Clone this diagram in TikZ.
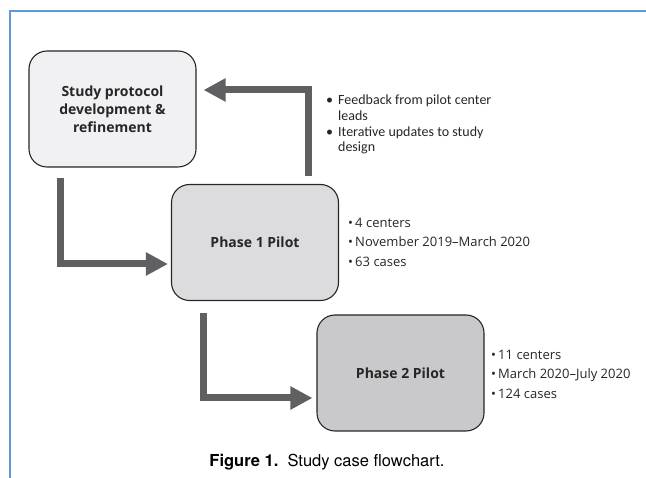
\documentclass[tikz,border=0pt]{standalone}
\usepackage{fontspec}
\setmainfont{Open Sans}
\newfontfamily\notefont{Carlito}
\newfontfamily\capfont{TeX Gyre Heros}
\usetikzlibrary{arrows.meta}
\definecolor{frameblue}{HTML}{5B9BD5}
\definecolor{arrowgray}{HTML}{606062}
\definecolor{fillA}{HTML}{F1F1F3}
\definecolor{fillB}{HTML}{DCDCDE}
\definecolor{fillC}{HTML}{C9C9CB}

\begin{document}
\begin{tikzpicture}[x=1pt,y=-1pt,
  box/.style={draw=black!85,line width=1.1pt,rounded corners=18pt,
    minimum width=167pt,minimum height=116pt,align=center,
    font=\bfseries\fontsize{14}{18}\selectfont,text=black!85},
  flow/.style={draw=arrowgray,line width=7pt,-{Triangle[length=22pt,width=22pt]}},
  list/.style={align=left,anchor=west,inner sep=0pt,text=black!85,
    font=\fontsize{13}{19.5}\selectfont}]
  \useasboundingbox (0,0) rectangle (646,478);
  \draw[frameblue,line width=2pt] (10,478) -- (10,11) -- (646,11);
  \node[box,fill=fillA] (sp) at (112.5,109) {Study protocol\\development \&\\refinement};
  \node[box,fill=fillB] (p1) at (255,242.5) {Phase 1 Pilot};
  \node[box,fill=fillC] (p2) at (400.5,373) {Phase 2 Pilot};
  \node[list,font=\notefont\fontsize{14}{15.8}\selectfont] (fb) at (326,125)
    {\begin{tabular}{@{}l@{\hspace{5pt}}l@{}}
      \textbullet & Feedback from pilot center\\
                  & leads\\
      \textbullet & Iterative updates to study\\
                  & design
     \end{tabular}};
  \node[list] (l1) at (348,242) {\textbullet\,4 centers\\\textbullet\,November 2019–March 2020\\\textbullet\,63 cases};
  \node[list] (l2) at (491,374) {\textbullet\,11 centers\\\textbullet\,March 2020–July 2020\\\textbullet\,124 cases};
  \node[font=\capfont\fontsize{16.5}{18}\selectfont] (cap) at (327,462)
    {\textbf{Figure 1.}\ \ Study case flowchart.};
  \draw[flow] ([shift={(32,10)}]sp.south west) |- ([shift={(-3,21.5)}]p1.west);
  \draw[flow] ([shift={(33,12)}]p1.south west) |- ([shift={(-4,25)}]p2.west);
  \draw[flow] ([shift={(-31,-8)}]p1.north east) |- ([shift={(7,-19)}]sp.east);
\end{tikzpicture}
\end{document}
